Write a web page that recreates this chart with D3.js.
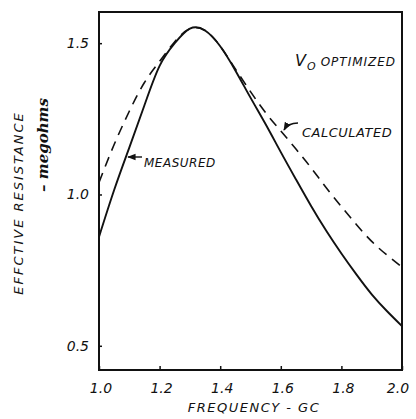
<!DOCTYPE html>
<html>
<head>
<meta charset="utf-8">
<script src="https://cdn.jsdelivr.net/npm/d3@7"></script>
<style>
  body { margin: 0; background: #fff; }
  text { font-family: "DejaVu Sans", sans-serif; font-style: italic; fill: #111; }
</style>
</head>
<body>
<div id="chart"></div>
<script>
// frequency in GC
const freq = [1.00, 1.05, 1.10, 1.15, 1.20, 1.25, 1.30, 1.35, 1.40, 1.45, 1.50,
              1.55, 1.60, 1.65, 1.70, 1.75, 1.80, 1.85, 1.90, 1.95, 2.00]
// effective resistance, megohms
const measured = [0.86, 1.015, 1.155, 1.295, 1.425, 1.50, 1.548, 1.542, 1.49, 1.41, 1.32,
                  1.232, 1.14, 1.05, 0.962, 0.88, 0.805, 0.735, 0.67, 0.615, 0.565]
const calculated = [1.04, 1.165, 1.275, 1.37, 1.44, 1.505, 1.548, 1.542, 1.49, 1.415, 1.34,
                    1.27, 1.21, 1.15, 1.088, 1.022, 0.96, 0.90, 0.845, 0.80, 0.76]
const xTicks = [1.0, 1.2, 1.4, 1.6, 1.8, 2.0]
const yTicks = [0.5, 1.0, 1.5]

const width = 416
const height = 419
const margin = {top: 12, right: 14, bottom: 49, left: 99}

const svg = d3.select('#chart')
  .append('svg')
  .attr('width', width)
  .attr('height', height)

const x = d3.scaleLinear().domain([1.0, 2.0]).range([margin.left, width - margin.right])
const y = d3.scaleLinear().domain([0.42, 1.603]).range([height - margin.bottom, margin.top])

const g = svg.append('g')

// frame
g.append('rect')
  .attr('x', x(1.0)).attr('y', y(1.603))
  .attr('width', x(2.0) - x(1.0)).attr('height', y(0.42) - y(1.603))
  .attr('fill', 'none').attr('stroke', '#111').attr('stroke-width', 2)

// axes (ticks inward, labels hand-set)
const xAxis = d3.axisBottom(x).tickValues(xTicks).tickSize(-4).tickFormat('')
const yAxis = d3.axisLeft(y).tickValues(yTicks).tickSize(-3).tickFormat('')
const xAxisG = g.append('g').attr('transform', `translate(0,${y(0.42)})`).call(xAxis)
const yAxisG = g.append('g').attr('transform', `translate(${x(1.0)},0)`).call(yAxis)
xAxisG.select('.domain').remove()
yAxisG.select('.domain').remove()
g.selectAll('.tick line').attr('stroke', '#111').attr('stroke-width', 1.5)

g.selectAll('.xlab')
  .data(xTicks)
  .join('text')
  .attr('x', d => x(d) + (d === 2.0 ? -4 : 2))
  .attr('y', 393)
  .attr('text-anchor', 'middle')
  .attr('font-size', 14)
  .text(d => d.toFixed(1))

g.selectAll('.ylab')
  .data(yTicks)
  .join('text')
  .attr('x', 89)
  .attr('y', d => y(d) + 5)
  .attr('text-anchor', 'end')
  .attr('font-size', 14)
  .text(d => d.toFixed(1))

// axis titles
svg.append('text')
  .attr('x', 254).attr('y', 412)
  .attr('text-anchor', 'middle')
  .attr('font-size', 13)
  .attr('letter-spacing', 1.5)
  .text('FREQUENCY - GC')

svg.append('text')
  .attr('transform', 'translate(23,203) rotate(-90)')
  .attr('text-anchor', 'middle')
  .attr('font-size', 13)
  .attr('letter-spacing', 2)
  .text('EFFCTIVE  RESISTANCE')

svg.append('text')
  .attr('transform', 'translate(48,145) rotate(-90)')
  .attr('text-anchor', 'middle')
  .attr('font-size', 15)
  .attr('font-weight', 'bold')
  .style('font-family', '"DejaVu Serif", serif')
  .text('– megohms')

// curves
const line = d3.line()
  .x((d, i) => x(freq[i]))
  .y(d => y(d))
  .curve(d3.curveNatural)

g.append('path')
  .datum(calculated)
  .attr('d', line)
  .attr('fill', 'none')
  .attr('stroke', '#111')
  .attr('stroke-width', 1.6)
  .attr('stroke-dasharray', '10,7')

g.append('path')
  .datum(measured)
  .attr('d', line)
  .attr('fill', 'none')
  .attr('stroke', '#111')
  .attr('stroke-width', 1.9)

// annotations
svg.append('text')
  .attr('x', 295).attr('y', 66)
  .attr('font-size', 12)
  .attr('letter-spacing', 1)
  .call(t => {
    t.append('tspan').attr('font-size', 16).text('V')
    t.append('tspan').attr('dy', 4).attr('font-size', 11).text('O')
    t.append('tspan').attr('dy', -4).attr('dx', 4).text('OPTIMIZED')
  })

svg.append('text')
  .attr('x', 302).attr('y', 137)
  .attr('font-size', 13)
  .attr('letter-spacing', 0.5)
  .text('CALCULATED')

svg.append('text')
  .attr('x', 144).attr('y', 167)
  .attr('font-size', 12)
  .attr('letter-spacing', 0.5)
  .text('MEASURED')

const defs = svg.append('defs')
defs.append('marker')
  .attr('id', 'arr')
  .attr('viewBox', '0 0 10 10')
  .attr('refX', 9).attr('refY', 5)
  .attr('markerWidth', 6).attr('markerHeight', 6)
  .attr('orient', 'auto')
  .append('path').attr('d', 'M0,1 L10,5 L0,9 Z').attr('fill', '#111')

svg.append('path')
  .attr('d', 'M142,157 L128,157')
  .attr('stroke', '#111').attr('stroke-width', 1.4).attr('fill', 'none')
  .attr('marker-end', 'url(#arr)')

svg.append('path')
  .attr('d', 'M298,123 Q288,123 284,130')
  .attr('stroke', '#111').attr('stroke-width', 1.4).attr('fill', 'none')
  .attr('marker-end', 'url(#arr)')
</script>
</body>
</html>
